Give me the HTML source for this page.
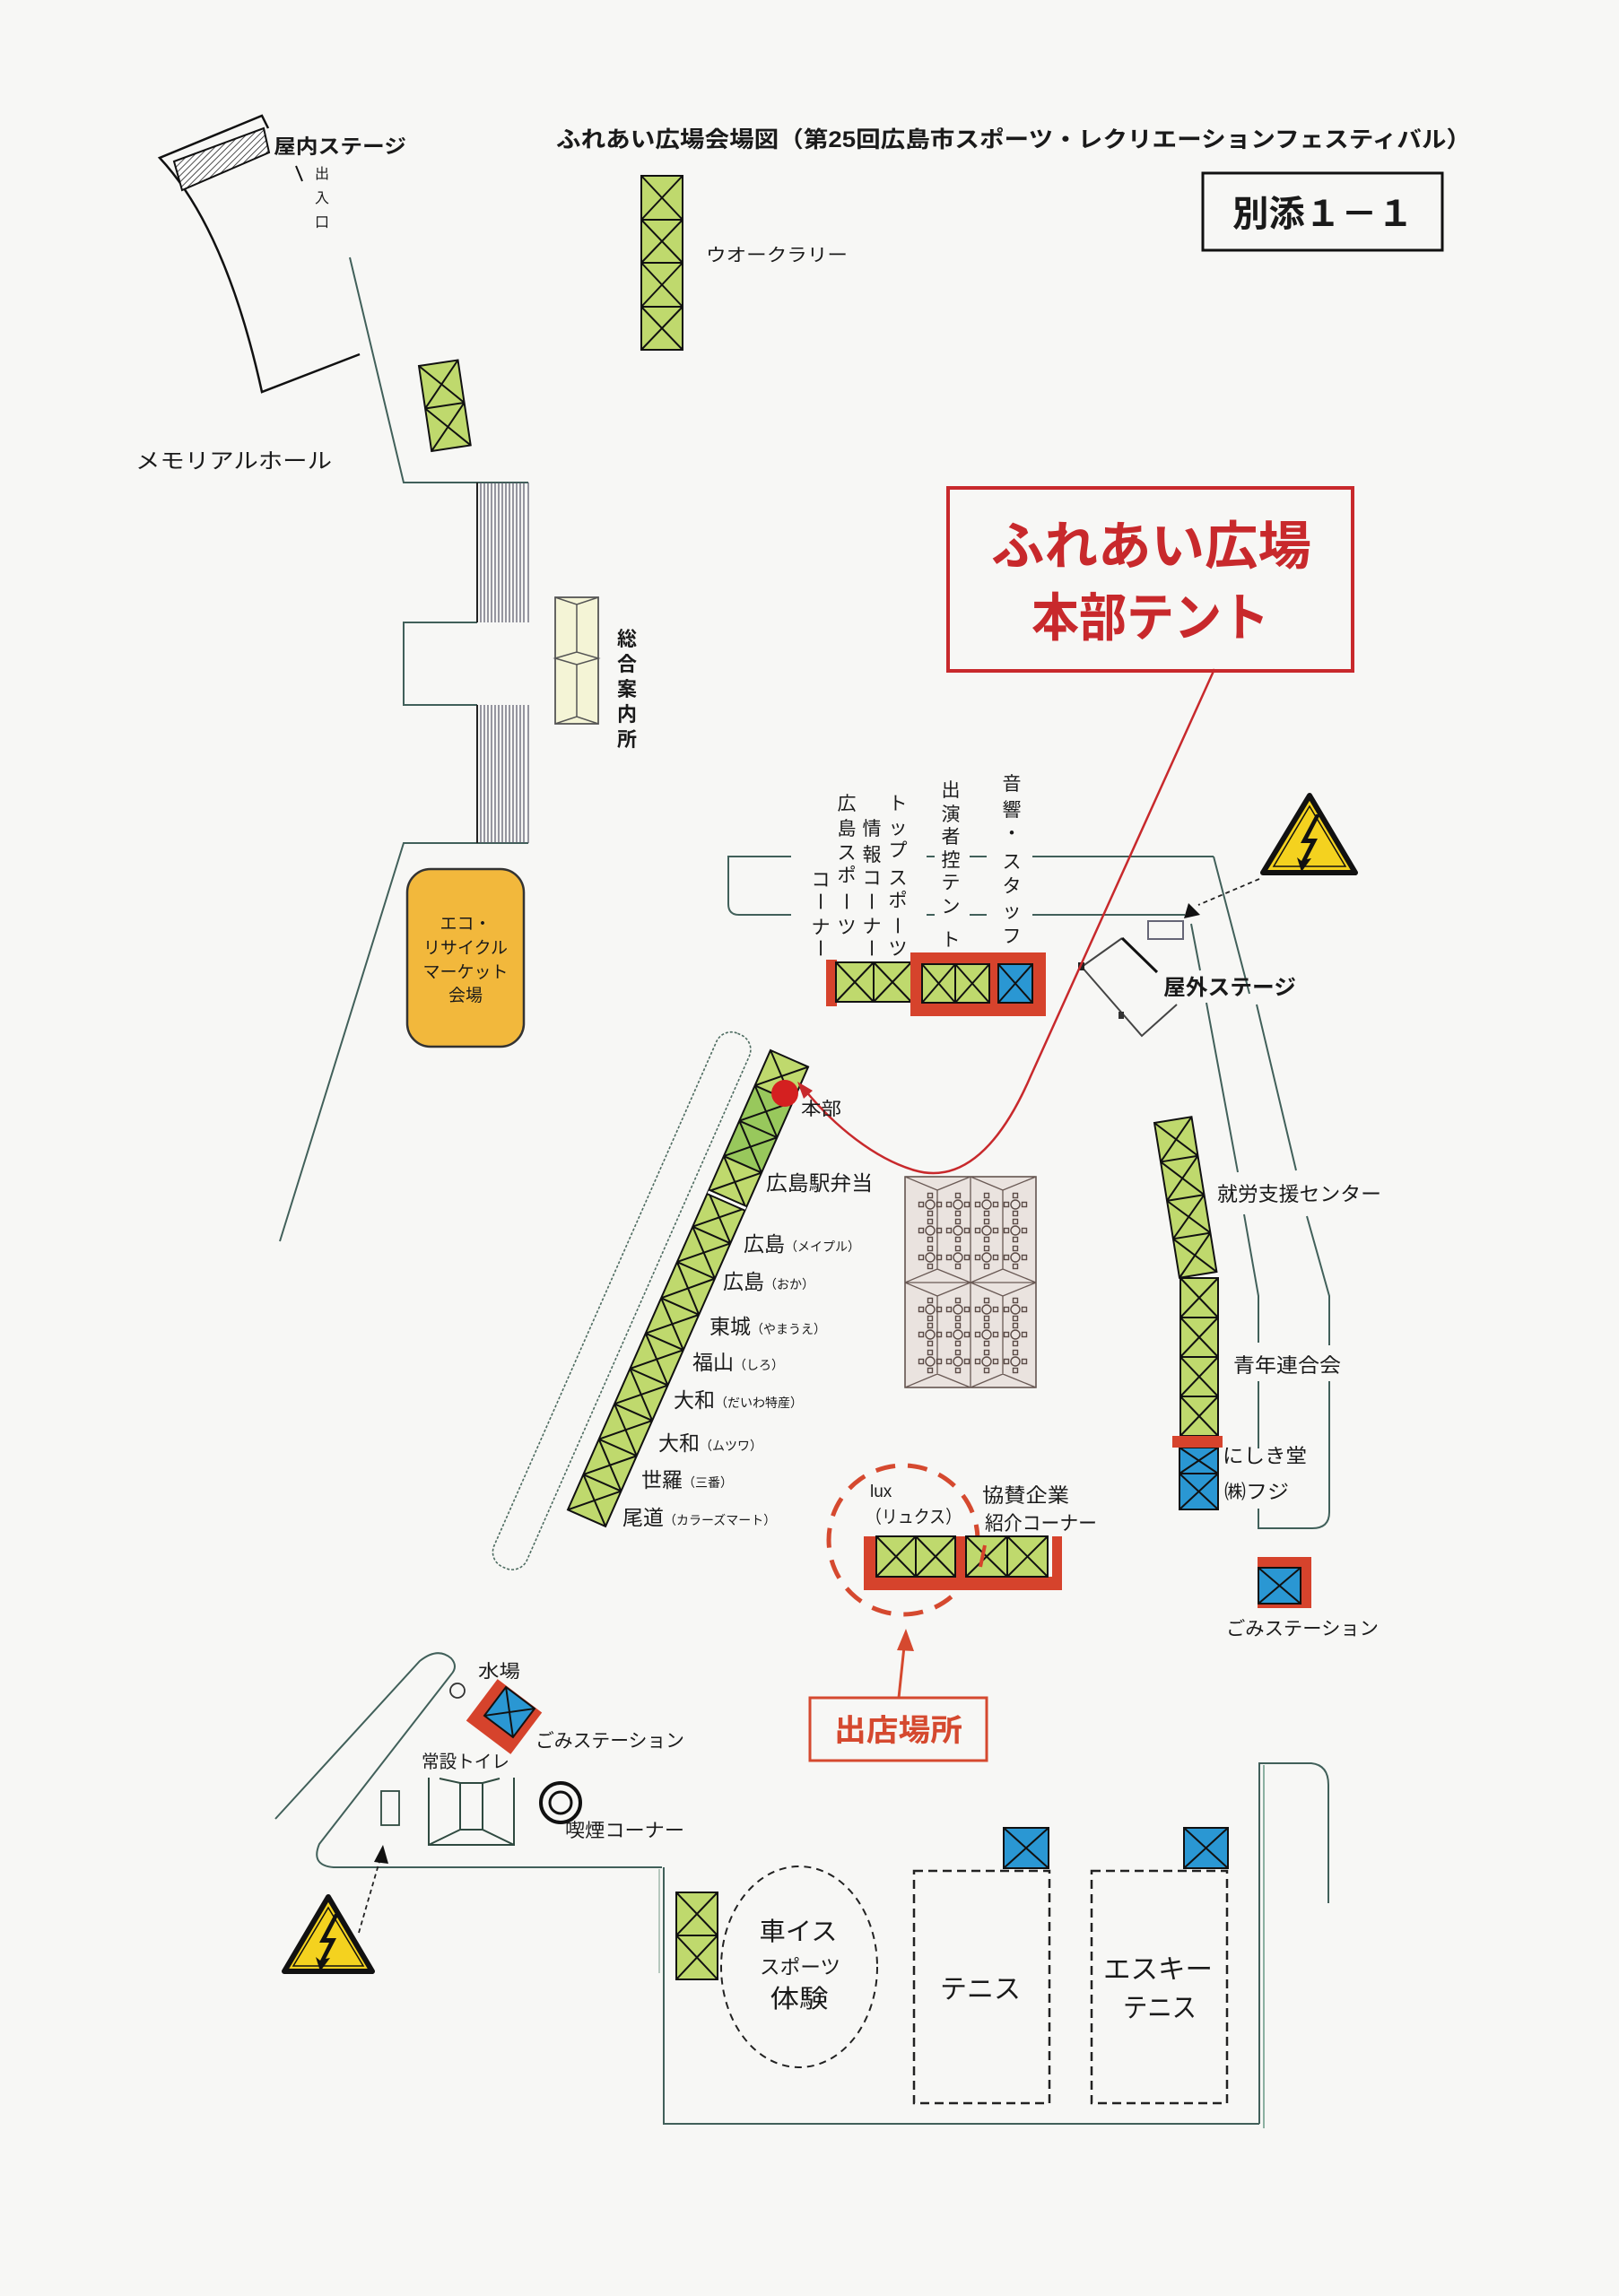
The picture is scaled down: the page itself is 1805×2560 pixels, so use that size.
<!DOCTYPE html>
<html><head><meta charset="utf-8">
<style>
html,body{margin:0;padding:0;background:#f7f7f5;}
svg{display:block;}
.t{font-family:"Liberation Sans","Noto Sans CJK JP",sans-serif;fill:#1a1a1a;}
.b{font-weight:700;}
.ln{fill:none;stroke:#41605a;stroke-width:2;}
.bk{fill:none;stroke:#111;stroke-width:2.5;}
.cx{fill:none;stroke:#111;stroke-width:2;}
.g{fill:#bfd96d;}
.bl{fill:#2a97d3;}
.rd{fill:#d6432c;}
.m{text-anchor:middle;}
</style></head><body>
<svg width="1805" height="2560" viewBox="0 0 1805 2560" xmlns="http://www.w3.org/2000/svg">
<defs>
<pattern id="hatch" width="5" height="5" patternUnits="userSpaceOnUse" patternTransform="rotate(45)">
<rect width="5" height="5" fill="#fff"/><line x1="0" y1="0" x2="0" y2="5" stroke="#222" stroke-width="1.6"/>
</pattern>
<g id="ch" fill="none" stroke="#5a4a45" stroke-width="1.4">
<circle cx="0" cy="0" r="5"/>
<rect x="-12.5" y="-2.5" width="5" height="5"/><rect x="7.5" y="-2.5" width="5" height="5"/>
<rect x="-2.5" y="-12.5" width="5" height="5"/><rect x="-2.5" y="7.5" width="5" height="5"/>
</g>
</defs>
<rect width="1805" height="2560" fill="#f7f7f5"/>

<!-- Title -->
<text class="t b" x="620" y="164" font-size="25" textLength="1020" lengthAdjust="spacingAndGlyphs">ふれあい広場会場図（第25回広島市スポーツ・レクリエーションフェスティバル）</text>
<rect x="1341" y="193" width="267" height="86" fill="none" stroke="#111" stroke-width="3"/>
<text class="t b" x="1374" y="252" font-size="40" textLength="202" lengthAdjust="spacingAndGlyphs">別添１－１</text>

<!-- Indoor stage -->
<path d="M299,143 L292,129 L178,176 Q252,255 292,437 L401,395" fill="none" stroke="#111" stroke-width="2.5"/>
<polygon points="194,180 294,143 300,170 203,212" fill="url(#hatch)" stroke="#111" stroke-width="2"/>
<text class="t b" x="305" y="171" font-size="22" textLength="148" lengthAdjust="spacingAndGlyphs">屋内ステージ</text>
<line x1="330" y1="185" x2="337" y2="202" stroke="#111" stroke-width="2"/>
<text class="t m" x="359" y="199" font-size="16">出</text>
<text class="t m" x="359" y="226" font-size="16">入</text>
<text class="t m" x="359" y="253" font-size="16">口</text>
<text class="t" x="151" y="522" font-size="24" textLength="219" lengthAdjust="spacingAndGlyphs">メモリアルホール</text>

<!-- Hall boundary & stairs -->
<path class="ln" d="M390,287 L450,538 L589,538"/>
<path class="ln" d="M532,694 L450,694 L450,786 L532,786"/>
<path class="ln" d="M589,940 L450,940 L312,1384"/>
<g stroke="#556" stroke-width="1.2">
<line x1="532" y1="538" x2="532" y2="694"/><line x1="536" y1="538" x2="536" y2="694"/><line x1="540" y1="538" x2="540" y2="694"/><line x1="544" y1="538" x2="544" y2="694"/><line x1="548" y1="538" x2="548" y2="694"/><line x1="552" y1="538" x2="552" y2="694"/><line x1="556" y1="538" x2="556" y2="694"/><line x1="560" y1="538" x2="560" y2="694"/><line x1="564" y1="538" x2="564" y2="694"/><line x1="568" y1="538" x2="568" y2="694"/><line x1="572" y1="538" x2="572" y2="694"/><line x1="576" y1="538" x2="576" y2="694"/><line x1="580" y1="538" x2="580" y2="694"/><line x1="584" y1="538" x2="584" y2="694"/><line x1="589" y1="538" x2="589" y2="694"/>
<line x1="532" y1="786" x2="532" y2="940"/><line x1="536" y1="786" x2="536" y2="940"/><line x1="540" y1="786" x2="540" y2="940"/><line x1="544" y1="786" x2="544" y2="940"/><line x1="548" y1="786" x2="548" y2="940"/><line x1="552" y1="786" x2="552" y2="940"/><line x1="556" y1="786" x2="556" y2="940"/><line x1="560" y1="786" x2="560" y2="940"/><line x1="564" y1="786" x2="564" y2="940"/><line x1="568" y1="786" x2="568" y2="940"/><line x1="572" y1="786" x2="572" y2="940"/><line x1="576" y1="786" x2="576" y2="940"/><line x1="580" y1="786" x2="580" y2="940"/><line x1="584" y1="786" x2="584" y2="940"/><line x1="589" y1="786" x2="589" y2="940"/>
</g>
<line x1="532" y1="538" x2="532" y2="694" stroke="#222" stroke-width="2"/>
<line x1="532" y1="786" x2="532" y2="940" stroke="#222" stroke-width="2"/>

<!-- Walk rally column -->
<rect class="g" x="715" y="196" width="46" height="194"/>
<path class="cx" d="M715,196H761V390H715Z M715,245H761 M715,293H761 M715,342H761 M715,196L761,245M761,196L715,245 M715,245L761,293M761,245L715,293 M715,293L761,342M761,293L715,342 M715,342L761,390M761,342L715,390"/>
<text class="t" x="787" y="291" font-size="20" textLength="158" lengthAdjust="spacingAndGlyphs">ウオークラリー</text>

<!-- Rotated small tent -->
<g transform="translate(467,408) rotate(-8.5)">
<rect class="g" x="0" y="0" width="44" height="96"/>
<path class="cx" d="M0,0H44V96H0Z M0,48H44 M0,0L44,48M44,0L0,48 M0,48L44,96M44,48L0,96"/>
</g>

<!-- Info booth -->
<rect x="619" y="666" width="48" height="141" fill="#f4f4d6" stroke="#555" stroke-width="1.8"/>
<path d="M619,666 L643,674 L667,666 M619,734 L643,727 L667,734 L643,741 Z M619,807 L643,799 L667,807 M643,674 V727 M643,741 V799" fill="none" stroke="#555" stroke-width="1.5"/>
<text class="t b m" x="699" y="720" font-size="22">総</text>
<text class="t b m" x="699" y="748" font-size="22">合</text>
<text class="t b m" x="699" y="776" font-size="22">案</text>
<text class="t b m" x="699" y="804" font-size="22">内</text>
<text class="t b m" x="699" y="832" font-size="22">所</text>

<!-- Eco box -->
<rect x="454" y="969" width="130" height="198" rx="26" fill="#f2b83c" stroke="#333" stroke-width="2.5"/>
<text class="t m" x="519" y="1036" font-size="19">エコ・</text>
<text class="t m" x="519" y="1063" font-size="19">リサイクル</text>
<text class="t m" x="519" y="1090" font-size="19">マーケット</text>
<text class="t m" x="519" y="1116" font-size="19">会場</text>

<!-- Red HQ box -->
<rect x="1057" y="544" width="451" height="204" fill="none" stroke="#c8292c" stroke-width="4"/>
<text class="t b" x="1105" y="629" font-size="58" fill="#c8292c" style="fill:#c8292c" textLength="357" lengthAdjust="spacingAndGlyphs">ふれあい広場</text>
<text class="t b" x="1150" y="709" font-size="58" style="fill:#c8292c" textLength="265" lengthAdjust="spacingAndGlyphs">本部テント</text>

<!-- Outdoor stage boundary -->
<path class="ln" d="M882,955 L812,955 L812,1008 Q812,1020 824,1020 L882,1020"/>
<path class="ln" d="M1033,955H1042 M1081,955H1100 M1151,955H1353 M1033,1020H1042 M1081,1020H1100 M1151,1020H1321"/>
<path class="ln" d="M1353,955 L1393,1108 M1401,1120 L1445,1305 M1457,1356 L1482,1445 L1482,1500 M1482,1540 L1482,1686 Q1482,1704 1463,1704 L1403,1704 L1403,1682 M1403,1615 L1403,1540 M1403,1497 L1403,1445 L1387,1354 M1380,1307 L1345,1118 M1338,1082 L1328,1030"/>
<rect x="1280" y="1027" width="39" height="20" fill="none" stroke="#667" stroke-width="2"/>
<path d="M1206,1078 L1251,1046" fill="none" stroke="#444" stroke-width="2"/>
<path d="M1251,1046 L1290,1084" fill="none" stroke="#111" stroke-width="3"/>
<path d="M1206,1078 L1273,1155 L1312,1120" fill="none" stroke="#444" stroke-width="2"/>
<rect x="1202" y="1073" width="7" height="9" fill="#222"/>
<rect x="1247" y="1128" width="6" height="8" fill="#333"/>
<text class="t b" x="1297" y="1109" font-size="24" textLength="148" lengthAdjust="spacingAndGlyphs">屋外ステージ</text>

<!-- Warning triangle top right -->
<polygon points="1460,887 1511,973 1408,973" fill="#f4d21f" stroke="#111" stroke-width="6" stroke-linejoin="round"/>
<polygon points="1460,899 1500,966 1420,966" fill="none" stroke="#111" stroke-width="1.5"/>
<path id="bolt" d="M1467,908 L1450,940 L1461,940 L1451,960 L1446,956 L1451,972 L1462,957 L1457,958 L1469,935 L1458,935 L1472,908 Z" fill="#111"/>
<line x1="1404" y1="980" x2="1336" y2="1009" stroke="#222" stroke-width="1.8" stroke-dasharray="5 4"/>
<polygon points="1325,1007 1320,1024 1338,1020" fill="#111"/>

<!-- Vertical labels over tents -->
<g class="t" font-size="21">
<text class="t m" x="915" y="988">コ</text><text class="t m" x="915" y="1013" transform="rotate(90 915 1005)">ー</text><text class="t m" x="915" y="1041">ナ</text><text class="t m" x="915" y="1065" transform="rotate(90 915 1057)">ー</text>
<text class="t m" x="944" y="903">広</text><text class="t m" x="944" y="931">島</text><text class="t m" x="944" y="958">ス</text><text class="t m" x="944" y="983">ポ</text><text class="t m" x="944" y="1013" transform="rotate(90 944 1005)">ー</text><text class="t m" x="944" y="1041">ツ</text>
<text class="t m" x="972" y="931">情</text><text class="t m" x="972" y="960">報</text><text class="t m" x="972" y="986">コ</text><text class="t m" x="972" y="1013" transform="rotate(90 972 1005)">ー</text><text class="t m" x="972" y="1040">ナ</text><text class="t m" x="972" y="1065" transform="rotate(90 972 1057)">ー</text>
<text class="t m" x="1001" y="903">ト</text><text class="t m" x="1001" y="930">ッ</text><text class="t m" x="1001" y="955">プ</text><text class="t m" x="1001" y="986">ス</text><text class="t m" x="1001" y="1011">ポ</text><text class="t m" x="1001" y="1040" transform="rotate(90 1001 1032)">ー</text><text class="t m" x="1001" y="1065">ツ</text>
<text class="t m" x="1060" y="888">出</text><text class="t m" x="1060" y="915">演</text><text class="t m" x="1060" y="940">者</text><text class="t m" x="1060" y="966">控</text><text class="t m" x="1060" y="991">テ</text><text class="t m" x="1060" y="1018">ン</text><text class="t m" x="1060" y="1055">ト</text>
<text class="t m" x="1128" y="881">音</text><text class="t m" x="1128" y="910">響</text><text class="t m" x="1128" y="936">・</text><text class="t m" x="1128" y="968">ス</text><text class="t m" x="1128" y="995">タ</text><text class="t m" x="1128" y="1023">ッ</text><text class="t m" x="1128" y="1051">フ</text>
</g>

<!-- Tents row -->
<rect class="rd" x="921" y="1070" width="12" height="52"/>
<rect class="g" x="932" y="1073" width="84" height="44"/>
<path class="cx" d="M932,1073H1016V1117H932Z M974,1073V1117 M932,1073L974,1117M974,1073L932,1117 M974,1073L1016,1117M1016,1073L974,1117"/>
<rect class="rd" x="1015" y="1062" width="151" height="71"/>
<rect class="g" x="1028" y="1075" width="75" height="43"/>
<path class="cx" d="M1028,1075H1103V1118H1028Z M1065,1075V1118 M1028,1075L1065,1118M1065,1075L1028,1118 M1065,1075L1103,1118M1103,1075L1065,1118"/>
<rect class="bl" x="1113" y="1075" width="38" height="43"/>
<path class="cx" d="M1113,1075H1151V1118H1113Z M1113,1075L1151,1118M1151,1075L1113,1118"/>

<!-- Dashed outline along diagonal -->
<rect x="0" y="0" width="40" height="650" rx="18" fill="none" stroke="#4d6b60" stroke-width="1.6" stroke-dasharray="3 2" transform="translate(806,1145) rotate(23.8)"/>

<!-- Diagonal booth strip -->
<g transform="translate(859,1171) rotate(23.8)">
<rect class="g" x="0" y="0" width="46" height="560"/>
<rect x="0" y="43" width="46" height="86" fill="#98c85c"/>
<path class="cx" d="M0,0H46V560H0Z M0,43H46 M0,86H46 M0,129H46 M0,215H46 M0,258H46 M0,302H46 M0,345H46 M0,388H46 M0,431H46 M0,474H46 M0,517H46
M0,0L46,43M46,0L0,43 M0,43L46,86M46,43L0,86 M0,86L46,129M46,86L0,129 M0,129L46,172M46,129L0,172 M0,172L46,215M46,172L0,215 M0,215L46,258M46,215L0,258 M0,258L46,302M46,258L0,302 M0,302L46,345M46,302L0,345 M0,345L46,388M46,345L0,388 M0,388L46,431M46,388L0,431 M0,431L46,474M46,431L0,474 M0,474L46,517M46,474L0,517 M0,517L46,560M46,517L0,560"/>
<path d="M0,170H46 M0,175H46" stroke="#111" stroke-width="2"/>
<line x1="0" y1="172.5" x2="46" y2="172.5" stroke="#fff" stroke-width="3"/>
</g>

<!-- HQ pointer -->
<path d="M1354,746 L1149,1200 C1110,1290 1065,1318 1020,1305 C975,1292 930,1255 898,1216" fill="none" stroke="#c8292c" stroke-width="2.5"/>
<polygon points="889,1206 906,1216 896,1225" fill="#c8292c"/>
<circle cx="875" cy="1219" r="15" fill="#d42020"/>
<text class="t" x="893" y="1243" font-size="20" textLength="45" lengthAdjust="spacingAndGlyphs">本部</text>
<text class="t" x="854" y="1327" font-size="23" textLength="119" lengthAdjust="spacingAndGlyphs">広島駅弁当</text>

<g class="t" font-size="23">
<text class="t" x="829" y="1395">広島<tspan font-size="14">（メイプル）</tspan></text>
<text class="t" x="806" y="1437">広島<tspan font-size="14">（おか）</tspan></text>
<text class="t" x="791" y="1487">東城<tspan font-size="14">（やまうえ）</tspan></text>
<text class="t" x="772" y="1527">福山<tspan font-size="14">（しろ）</tspan></text>
<text class="t" x="751" y="1569">大和<tspan font-size="14">（だいわ特産）</tspan></text>
<text class="t" x="734" y="1617">大和<tspan font-size="14">（ムツワ）</tspan></text>
<text class="t" x="715" y="1658">世羅<tspan font-size="14">（三番）</tspan></text>
<text class="t" x="694" y="1700">尾道<tspan font-size="14">（カラーズマート）</tspan></text>
</g>

<!-- Tables grid -->
<rect x="1009" y="1312" width="146" height="235" fill="#eae3df" stroke="#5a4a45" stroke-width="1.5"/>
<path d="M1009,1430H1155 M1082,1312V1547 M1045,1327V1415 M1118,1327V1415 M1045,1445V1532 M1118,1445V1532
M1009,1312L1045,1327L1082,1312L1118,1327L1155,1312 M1009,1430L1045,1415L1082,1430L1118,1415L1155,1430
M1009,1430L1045,1445L1082,1430L1118,1445L1155,1430 M1009,1547L1045,1532L1082,1547L1118,1532L1155,1547" fill="none" stroke="#6a5a55" stroke-width="1.3"/>
<use href="#ch" x="1037" y="1343"/><use href="#ch" x="1068" y="1343"/><use href="#ch" x="1100" y="1343"/><use href="#ch" x="1132" y="1343"/>
<use href="#ch" x="1037" y="1372"/><use href="#ch" x="1068" y="1372"/><use href="#ch" x="1100" y="1372"/><use href="#ch" x="1132" y="1372"/>
<use href="#ch" x="1037" y="1402"/><use href="#ch" x="1068" y="1402"/><use href="#ch" x="1100" y="1402"/><use href="#ch" x="1132" y="1402"/>
<use href="#ch" x="1037" y="1460"/><use href="#ch" x="1068" y="1460"/><use href="#ch" x="1100" y="1460"/><use href="#ch" x="1132" y="1460"/>
<use href="#ch" x="1037" y="1488"/><use href="#ch" x="1068" y="1488"/><use href="#ch" x="1100" y="1488"/><use href="#ch" x="1132" y="1488"/>
<use href="#ch" x="1037" y="1518"/><use href="#ch" x="1068" y="1518"/><use href="#ch" x="1100" y="1518"/><use href="#ch" x="1132" y="1518"/>

<!-- Right column -->
<g transform="translate(1287,1252) rotate(-9.2)">
<rect class="g" x="0" y="0" width="42" height="175"/>
<path class="cx" d="M0,0H42V175H0Z M0,44H42 M0,88H42 M0,131H42 M0,0L42,44M42,0L0,44 M0,44L42,88M42,44L0,88 M0,88L42,131M42,88L0,131 M0,131L42,175M42,131L0,175"/>
</g>
<rect class="g" x="1316" y="1425" width="42" height="176"/>
<path class="cx" d="M1316,1425H1358V1601H1316Z M1316,1469H1358 M1316,1513H1358 M1316,1557H1358 M1316,1425L1358,1469M1358,1425L1316,1469 M1316,1469L1358,1513M1358,1469L1316,1513 M1316,1513L1358,1557M1358,1513L1316,1557 M1316,1557L1358,1601M1358,1557L1316,1601"/>
<rect class="bl" x="1315" y="1614" width="43" height="69"/>
<path class="cx" d="M1315,1614H1358V1683H1315Z M1315,1643H1358 M1315,1614L1358,1643M1358,1614L1315,1643 M1315,1643L1358,1683M1358,1643L1315,1683"/>
<rect class="rd" x="1307" y="1601" width="56" height="13"/>
<text class="t" x="1357" y="1339" font-size="22" textLength="183" lengthAdjust="spacingAndGlyphs">就労支援センター</text>
<text class="t" x="1375" y="1530" font-size="22" textLength="120" lengthAdjust="spacingAndGlyphs">青年連合会</text>
<text class="t" x="1363" y="1631" font-size="22" textLength="94" lengthAdjust="spacingAndGlyphs">にしき堂</text>
<text class="t" x="1365" y="1671" font-size="22" textLength="72" lengthAdjust="spacingAndGlyphs">㈱フジ</text>

<rect class="rd" x="1402" y="1736" width="60" height="57"/>
<rect class="bl" x="1403" y="1748" width="47" height="40"/>
<path class="cx" d="M1403,1748H1450V1788H1403Z M1403,1748L1450,1788M1450,1748L1403,1788"/>
<text class="t" x="1367" y="1823" font-size="21" textLength="170" lengthAdjust="spacingAndGlyphs">ごみステーション</text>

<!-- Lux area -->
<circle cx="1007" cy="1717" r="83" fill="none" stroke="#d5492f" stroke-width="5" stroke-dasharray="22 14"/>
<rect class="rd" x="963" y="1713" width="14" height="60"/>
<rect class="rd" x="963" y="1758" width="221" height="15"/>
<rect class="rd" x="1173" y="1713" width="11" height="60"/>
<rect class="rd" x="1065" y="1713" width="12" height="60"/>
<rect class="g" x="977" y="1713" width="88" height="45"/>
<path class="cx" d="M977,1713H1065V1758H977Z M1021,1713V1758 M977,1713L1021,1758M1021,1713L977,1758 M1021,1713L1065,1758M1065,1713L1021,1758"/>
<rect class="g" x="1077" y="1713" width="91" height="45"/>
<path class="cx" d="M1077,1713H1168V1758H1077Z M1123,1713V1758 M1077,1713L1123,1758M1123,1713L1077,1758 M1123,1713L1168,1758M1168,1713L1123,1758"/>
<line x1="1098" y1="1723" x2="1093" y2="1747" stroke="#d6432c" stroke-width="4"/>
<text class="t" x="970" y="1669" font-size="19">lux</text>
<text class="t" x="965" y="1698" font-size="20" textLength="107" lengthAdjust="spacingAndGlyphs">（リュクス）</text>
<text class="t" x="1095" y="1675" font-size="22" textLength="97" lengthAdjust="spacingAndGlyphs">協賛企業</text>
<text class="t" x="1098" y="1706" font-size="22" textLength="125" lengthAdjust="spacingAndGlyphs">紹介コーナー</text>
<line x1="1002" y1="1893" x2="1008" y2="1836" stroke="#d5492f" stroke-width="3"/>
<polygon points="1010,1816 1000,1840 1019,1841" fill="#d5492f"/>
<rect x="903" y="1893" width="197" height="70" fill="none" stroke="#d5492f" stroke-width="3"/>
<text class="t b" x="930" y="1941" font-size="34" style="fill:#d5492f" textLength="143" lengthAdjust="spacingAndGlyphs">出店場所</text>

<!-- Water / toilet area -->
<path class="ln" d="M307,2028 L468,1852 Q488,1836 503,1849 Q511,1858 503,1867 L356,2056 Q346,2080 372,2082 L738,2082"/>
<path class="ln" d="M740,2082 L740,2368 L1404,2368"/>
<line x1="735" y1="2084" x2="735" y2="2200" stroke="#8aa89a" stroke-width="1.2"/>
<circle cx="510" cy="1885" r="8" fill="none" stroke="#333" stroke-width="1.8"/>
<text class="t" x="533" y="1870" font-size="20" textLength="47" lengthAdjust="spacingAndGlyphs">水場</text>
<rect class="rd" x="-31" y="-29" width="62" height="58" transform="translate(562,1914) rotate(37)"/>
<g transform="translate(568,1909) rotate(37)">
<rect class="bl" x="-20" y="-20" width="40" height="40"/>
<path class="cx" d="M-20,-20H20V20H-20Z M-20,-20L20,20M20,-20L-20,20"/>
</g>
<text class="t" x="597" y="1948" font-size="21" textLength="166" lengthAdjust="spacingAndGlyphs">ごみステーション</text>
<text class="t" x="470" y="1971" font-size="20" textLength="98" lengthAdjust="spacingAndGlyphs">常設トイレ</text>
<path d="M478,1982 V2057 H573 V1982 M513,1988 H538 V2040 H513 Z M490,1983 L513,1988 M557,1983 L538,1988 M478,2057 L513,2040 M573,2057 L538,2040" fill="none" stroke="#2f4a40" stroke-width="2"/>
<rect x="425" y="1997" width="20" height="38" fill="none" stroke="#2f4a40" stroke-width="1.8"/>
<circle cx="625" cy="2010" r="22" fill="none" stroke="#111" stroke-width="4"/>
<circle cx="625" cy="2010" r="12" fill="none" stroke="#111" stroke-width="3"/>
<text class="t" x="630" y="2048" font-size="21" textLength="133" lengthAdjust="spacingAndGlyphs">喫煙コーナー</text>

<!-- Warning triangle bottom left -->
<polygon points="366,2115 415,2198 317,2198" fill="#f4d21f" stroke="#111" stroke-width="6" stroke-linejoin="round"/>
<polygon points="366,2127 405,2192 327,2192" fill="none" stroke="#111" stroke-width="1.5"/>
<path d="M1467,908 L1450,940 L1461,940 L1451,960 L1446,956 L1451,972 L1462,957 L1457,958 L1469,935 L1458,935 L1472,908 Z" fill="#111" transform="translate(-1094,1226)"/>
<line x1="400" y1="2155" x2="424" y2="2072" stroke="#222" stroke-width="1.8" stroke-dasharray="5 4"/>
<polygon points="427,2057 417,2076 433,2078" fill="#111"/>

<!-- Bottom area -->
<rect class="g" x="754" y="2110" width="46" height="97"/>
<path class="cx" d="M754,2110H800V2207H754Z M754,2158H800 M754,2110L800,2158M800,2110L754,2158 M754,2158L800,2207M800,2158L754,2207"/>
<ellipse cx="891" cy="2193" rx="87" ry="112" fill="none" stroke="#222" stroke-width="2" stroke-dasharray="8 6"/>
<text class="t m" x="890" y="2163" font-size="28" textLength="87" lengthAdjust="spacingAndGlyphs">車イス</text>
<text class="t m" x="892" y="2201" font-size="22" textLength="90" lengthAdjust="spacingAndGlyphs">スポーツ</text>
<text class="t m" x="891" y="2238" font-size="28" textLength="65" lengthAdjust="spacingAndGlyphs">体験</text>
<rect x="1019" y="2086" width="151" height="259" fill="none" stroke="#222" stroke-width="2.5" stroke-dasharray="10 6"/>
<rect x="1217" y="2086" width="151" height="259" fill="none" stroke="#222" stroke-width="2.5" stroke-dasharray="10 6"/>
<rect class="bl" x="1119" y="2038" width="50" height="45"/>
<path class="cx" d="M1119,2038H1169V2083H1119Z M1119,2038L1169,2083M1169,2038L1119,2083"/>
<rect class="bl" x="1320" y="2038" width="49" height="45"/>
<path class="cx" d="M1320,2038H1369V2083H1320Z M1320,2038L1369,2083M1369,2038L1320,2083"/>
<text class="t" x="1048" y="2228" font-size="30" textLength="90" lengthAdjust="spacingAndGlyphs">テニス</text>
<text class="t" x="1230" y="2206" font-size="30" textLength="122" lengthAdjust="spacingAndGlyphs">エスキー</text>
<text class="t" x="1252" y="2249" font-size="30" textLength="82" lengthAdjust="spacingAndGlyphs">テニス</text>
<path class="ln" d="M1404,2368 L1404,1966 L1462,1966 Q1481,1968 1481,1990 L1481,2122"/>
<line x1="1409" y1="1968" x2="1409" y2="2373" stroke="#6a9a86" stroke-width="1.5"/>
</svg>
</body></html>
